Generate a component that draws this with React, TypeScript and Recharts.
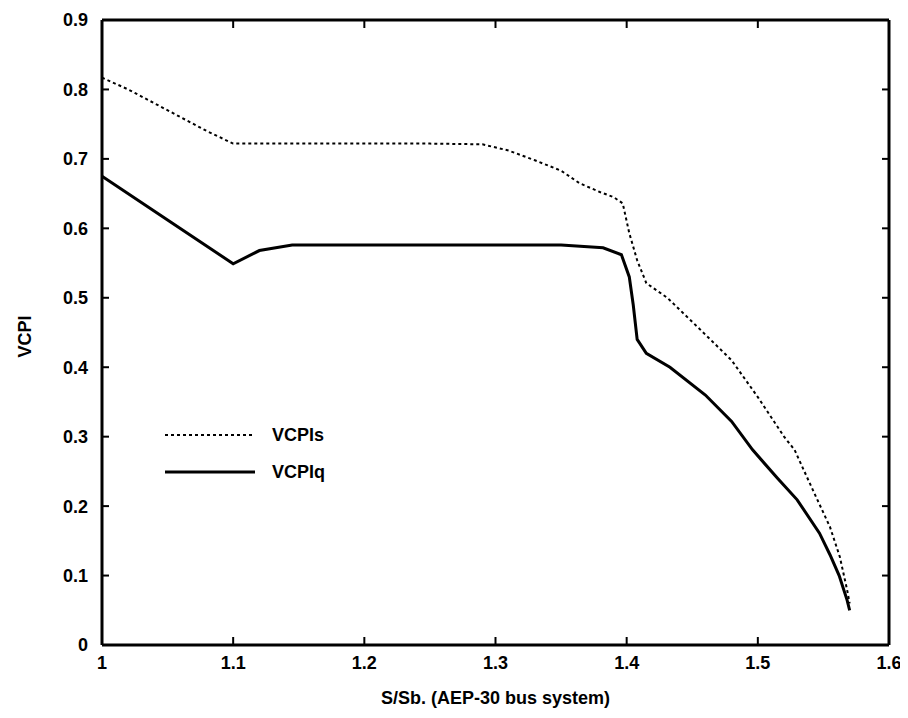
import React from 'react';
import { LineChart, Line, XAxis, YAxis } from 'recharts';

const xTicks = [1, 1.1, 1.2, 1.3, 1.4, 1.5, 1.6];
const yTicks = [0, 0.1, 0.2, 0.3, 0.4, 0.5, 0.6, 0.7, 0.8, 0.9];

// VCPIs (dotted)
const sX = [1.0, 1.02, 1.04, 1.06, 1.08, 1.1, 1.15, 1.2, 1.25, 1.29, 1.31, 1.33, 1.35, 1.364, 1.38, 1.39, 1.397, 1.402, 1.408, 1.415, 1.431, 1.454, 1.48, 1.5, 1.52, 1.528, 1.542, 1.555, 1.5625, 1.568, 1.57];
const sY = [0.817, 0.8, 0.78, 0.76, 0.74, 0.722, 0.722, 0.722, 0.722, 0.721, 0.712, 0.698, 0.683, 0.665, 0.652, 0.645, 0.636, 0.593, 0.554, 0.521, 0.5, 0.458, 0.41, 0.357, 0.3, 0.281, 0.223, 0.17, 0.127, 0.08, 0.06];

// VCPIq (solid)
const qX = [1.0, 1.05, 1.1, 1.12, 1.145, 1.2, 1.25, 1.3, 1.35, 1.382, 1.396, 1.402, 1.405, 1.408, 1.415, 1.433, 1.46, 1.48, 1.496, 1.515, 1.53, 1.547, 1.555, 1.562, 1.568, 1.57];
const qY = [0.675, 0.612, 0.549, 0.568, 0.576, 0.576, 0.576, 0.576, 0.576, 0.572, 0.562, 0.53, 0.49, 0.44, 0.42, 0.4, 0.36, 0.322, 0.281, 0.24, 0.209, 0.161, 0.13, 0.1, 0.065, 0.05];

const sData = sX.map((x, i) => ({ x, y: sY[i] }));
const qData = qX.map((x, i) => ({ x, y: qY[i] }));

const font = 'Liberation Sans, Arial, sans-serif';
const innerTick = { stroke: '#000', strokeWidth: 2 };
const noLabel = () => <g />;
const X_MARGIN = 11;
const Y_MARGIN = 14;

const fmt = (v: number) => String(Number(v.toFixed(1)));

// bottom tick: inward tick mark + label below the axis
function XTick(props: any) {
  const { x, y, payload } = props;
  const axisY = y - X_MARGIN;
  return (
    <g>
      <line x1={x} x2={x} y1={axisY} y2={axisY - 8} stroke="#000" strokeWidth={2} />
      <text x={x} y={y} dy="0.71em" textAnchor="middle" fontFamily={font} fontWeight="bold" fontSize={18} fill="#000">
        {fmt(payload.value)}
      </text>
    </g>
  );
}

// left tick: inward tick mark + label left of the axis
function YTick(props: any) {
  const { x, y, payload } = props;
  const axisX = x + Y_MARGIN;
  return (
    <g>
      <line x1={axisX} x2={axisX + 7} y1={y} y2={y} stroke="#000" strokeWidth={2} />
      <text x={x} y={y} dy="0.355em" textAnchor="end" fontFamily={font} fontWeight="bold" fontSize={18} fill="#000">
        {fmt(payload.value)}
      </text>
    </g>
  );
}

function LegendBox() {
  return (
    <svg width={240} height={70} style={{ position: 'absolute', left: 150, top: 415, overflow: 'visible' }}>
      <line x1={7} y1={12} x2={97} y2={12} stroke="#000" strokeWidth={2} strokeDasharray="3 3" />
      <text x={114} y={18} fontFamily={font} fontWeight="bold" fontSize={18} fill="#000">VCPIs</text>
      <line x1={7} y1={49} x2={97} y2={49} stroke="#000" strokeWidth={3} />
      <text x={114} y={55} fontFamily={font} fontWeight="bold" fontSize={18} fill="#000">VCPIq</text>
    </svg>
  );
}

export default function App() {
  return (
    <div style={{ position: 'relative', width: 900, height: 700, background: '#fff' }}>
      <LineChart width={900} height={700} margin={{ top: 12, right: 19, left: 34, bottom: 4 }}>
        <XAxis
          xAxisId="b"
          type="number"
          dataKey="x"
          domain={[1, 1.6]}
          ticks={xTicks}
          allowDataOverflow
          stroke="#000"
          strokeWidth={3}
          tickLine={false}
          tickSize={0}
          tickMargin={X_MARGIN}
          tick={<XTick />}
          height={59}
          label={{ value: 'S/Sb. (AEP-30 bus system)', position: 'insideBottom', offset: 0, fill: '#000', fontSize: 18, fontFamily: font, fontWeight: 'bold' }}
        />
        <XAxis
          xAxisId="t"
          orientation="top"
          type="number"
          dataKey="x"
          domain={[1, 1.6]}
          ticks={xTicks}
          allowDataOverflow
          mirror
          stroke="#000"
          strokeWidth={3}
          tickLine={innerTick}
          tickSize={8}
          tick={noLabel}
        />
        <YAxis
          yAxisId="l"
          type="number"
          domain={[0, 0.9]}
          ticks={yTicks}
          allowDataOverflow
          stroke="#000"
          strokeWidth={3}
          tickLine={false}
          tickSize={0}
          tickMargin={Y_MARGIN}
          tick={<YTick />}
          width={60}
          label={{ value: 'VCPI', angle: -90, position: 'insideLeft', offset: -17, dy: 25, fill: '#000', fontSize: 18, fontFamily: font, fontWeight: 'bold' }}
        />
        <YAxis
          yAxisId="r"
          orientation="right"
          type="number"
          domain={[0, 0.9]}
          ticks={yTicks}
          allowDataOverflow
          mirror
          stroke="#000"
          strokeWidth={3}
          tickLine={innerTick}
          tickSize={7}
          tick={noLabel}
        />
        <Line
          xAxisId="b"
          yAxisId="l"
          data={sData}
          dataKey="y"
          name="VCPIs"
          type="linear"
          stroke="#000"
          strokeWidth={2}
          strokeDasharray="3 3"
          dot={false}
          isAnimationActive={false}
        />
        <Line
          xAxisId="b"
          yAxisId="l"
          data={qData}
          dataKey="y"
          name="VCPIq"
          type="linear"
          stroke="#000"
          strokeWidth={3}
          dot={false}
          isAnimationActive={false}
        />
      </LineChart>
      <LegendBox />
    </div>
  );
}
